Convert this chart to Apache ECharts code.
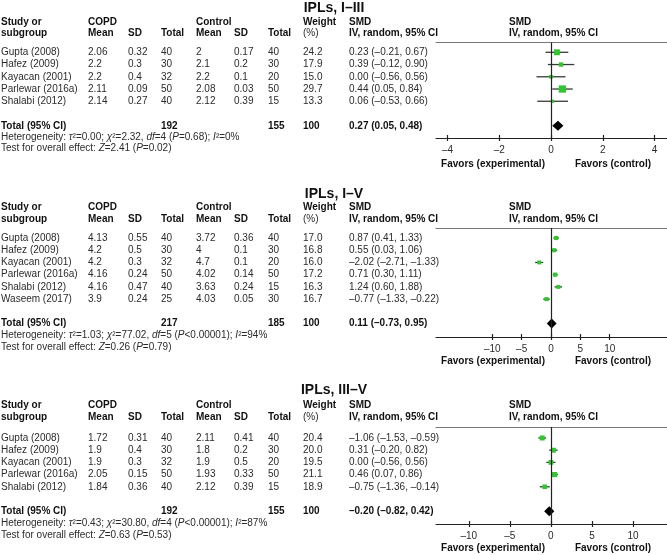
<!DOCTYPE html>
<html><head><meta charset="utf-8">
<script src="https://cdn.jsdelivr.net/npm/echarts@6/dist/echarts.min.js"></script>
<style>html,body{margin:0;padding:0;background:#fff}#c{width:667px;height:555px}</style>
</head><body><div id="c"></div>
<script>
// ---------------- DATA ----------------
const title1 = 'IPLs, I–III';
const studies1 = ['Gupta (2008)','Hafez (2009)','Kayacan (2001)','Parlewar (2016a)','Shalabi (2012)'];
const copdMean1 = ['2.06','2.2','2.2','2.11','2.14'];
const copdSD1 = ['0.32','0.3','0.4','0.09','0.27'];
const copdN1 = [40,30,32,50,40];
const ctrlMean1 = ['2','2.1','2.2','2.08','2.12'];
const ctrlSD1 = ['0.17','0.2','0.1','0.03','0.39'];
const ctrlN1 = [40,30,20,50,15];
const weight1 = [24.2,17.9,15.0,29.7,13.3];
const smd1 = [0.23,0.39,0.00,0.44,0.06];
const lo1 = [-0.21,-0.12,-0.56,0.05,-0.53];
const hi1 = [0.67,0.90,0.56,0.84,0.66];
const totalN1 = [192,155];
const totalSmd1 = [0.27,0.05,0.48];
const hetero1 = ['0.00','2.32','4','=0.68','0'];
const overall1 = ['2.41','0.02'];
const ticks1 = [-4,-2,0,2,4];

const title2 = 'IPLs, I–V';
const studies2 = ['Gupta (2008)','Hafez (2009)','Kayacan (2001)','Parlewar (2016a)','Shalabi (2012)','Waseem (2017)'];
const copdMean2 = ['4.13','4.2','4.2','4.16','4.16','3.9'];
const copdSD2 = ['0.55','0.5','0.3','0.24','0.47','0.24'];
const copdN2 = [40,30,32,50,40,25];
const ctrlMean2 = ['3.72','4','4.7','4.02','3.63','4.03'];
const ctrlSD2 = ['0.36','0.1','0.1','0.14','0.24','0.05'];
const ctrlN2 = [40,30,20,50,15,30];
const weight2 = [17.0,16.8,16.0,17.2,16.3,16.7];
const smd2 = [0.87,0.55,-2.02,0.71,1.24,-0.77];
const lo2 = [0.41,0.03,-2.71,0.30,0.60,-1.33];
const hi2 = [1.33,1.06,-1.33,1.11,1.88,-0.22];
const totalN2 = [217,185];
const totalSmd2 = [0.11,-0.73,0.95];
const hetero2 = ['1.03','77.02','5','<0.00001','94'];
const overall2 = ['0.26','0.79'];
const ticks2 = [-10,-5,0,5,10];

const title3 = 'IPLs, III–V';
const studies3 = ['Gupta (2008)','Hafez (2009)','Kayacan (2001)','Parlewar (2016a)','Shalabi (2012)'];
const copdMean3 = ['1.72','1.9','1.9','2.05','1.84'];
const copdSD3 = ['0.31','0.4','0.3','0.15','0.36'];
const copdN3 = [40,30,32,50,40];
const ctrlMean3 = ['2.11','1.8','1.9','1.93','2.12'];
const ctrlSD3 = ['0.41','0.2','0.5','0.33','0.39'];
const ctrlN3 = [40,30,20,50,15];
const weight3 = [20.4,20.0,19.5,21.1,18.9];
const smd3 = [-1.06,0.31,0.00,0.46,-0.75];
const lo3 = [-1.53,-0.20,-0.56,0.07,-1.36];
const hi3 = [-0.59,0.82,0.56,0.86,-0.14];
const totalN3 = [192,155];
const totalSmd3 = [-0.20,-0.82,0.42];
const hetero3 = ['0.43','30.80','4','<0.00001','87'];
const overall3 = ['0.63','0.53'];
const ticks3 = [-10,-5,0,5,10];

// ---------------- ASSEMBLY ----------------
const panels = [
  {title:title1, studies:studies1, cm:copdMean1, cs:copdSD1, cn:copdN1, km:ctrlMean1, ks:ctrlSD1, kn:ctrlN1, w:weight1, smd:smd1, lo:lo1, hi:hi1, tn:totalN1, ts:totalSmd1, het:hetero1, ov:overall1, ticks:ticks1},
  {title:title2, studies:studies2, cm:copdMean2, cs:copdSD2, cn:copdN2, km:ctrlMean2, ks:ctrlSD2, kn:ctrlN2, w:weight2, smd:smd2, lo:lo2, hi:hi2, tn:totalN2, ts:totalSmd2, het:hetero2, ov:overall2, ticks:ticks2},
  {title:title3, studies:studies3, cm:copdMean3, cs:copdSD3, cn:copdN3, km:ctrlMean3, ks:ctrlSD3, kn:ctrlN3, w:weight3, smd:smd3, lo:lo3, hi:hi3, tn:totalN3, ts:totalSmd3, het:hetero3, ov:overall3, ticks:ticks3}
];

// layout (positions only)
const layout = [
  {titleY:8, h1:22.5, h2:33.5, top:42.5, height:95.5, yMin:-0.8, yMax:7.0, xMin:-4.44, xMax:4.48, favorsY:164.5, gap:11.2},
  {titleY:194, h1:207.5, h2:219, top:228, height:109, yMin:-0.82, yMax:8.1, xMin:-19.6, xMax:19.76, favorsY:361.5, gap:11.8},
  {titleY:390, h1:405, h2:417, top:427, height:97, yMin:-0.9, yMax:7.05, xMin:-14.0, xMax:14.15, favorsY:548, gap:12.2}
];
const COL = {study:1, cm:88, cs:128, cn:161, km:196, ks:234, kn:268, w:303, smd:349, plot:509};
const FONT = '"Liberation Sans", Arial, Helvetica, sans-serif';
const TXT = '#2b2b2b';

function fmt(v){ return (v < 0 ? '–' : '') + Math.abs(v).toFixed(2); }
function ciText(e,l,h){ return fmt(e) + ' (' + fmt(l) + ', ' + fmt(h) + ')'; }

const chart = echarts.init(document.getElementById('c'), null, {renderer:'canvas'});

function forestItem(params, api){
  const row = api.value(0);
  const pE = api.coord([api.value(1), row]);
  const pL = api.coord([api.value(2), row]);
  const pH = api.coord([api.value(3), row]);
  const s = Math.max(3, 0.245 * api.value(4));
  return {type:'group', children:[
    {type:'line', shape:{x1:pL[0], y1:pL[1], x2:pH[0], y2:pH[1]}, style:{stroke:'#3a3a3a', lineWidth:1.3}},
    {type:'rect', shape:{x:pE[0]-s/2, y:pE[1]-s/2, width:s, height:s}, style:{fill:'#2fc62f'}}
  ]};
}
function diamondItem(params, api){
  const row = api.value(0);
  const pE = api.coord([api.value(1), row]);
  const pL = api.coord([api.value(2), row]);
  const pH = api.coord([api.value(3), row]);
  const hh = 5;
  return {type:'polygon', shape:{points:[[pL[0],pL[1]],[pE[0],pE[1]-hh],[pH[0],pH[1]],[pE[0],pE[1]+hh]]}, style:{fill:'#000'}};
}

const grid = [], xAxis = [], yAxis = [], series = [];
panels.forEach((P, p) => {
  const L = layout[p];
  grid.push({left:436, right:0, top:L.top, height:L.height, containLabel:false});
  const tickFmt = v => (v < 0 ? '–' + Math.abs(v) : String(v));
  xAxis.push({gridIndex:p, type:'value', min:L.xMin, max:L.xMax, position:'bottom',
    axisLine:{show:true, onZero:false, lineStyle:{color:'#222', width:1.2}},
    axisTick:{show:true, length:3, customValues:P.ticks, lineStyle:{color:'#222', width:1.2}},
    axisLabel:{show:true, customValues:P.ticks, formatter:tickFmt, fontSize:10, color:TXT, fontFamily:FONT, margin:7},
    splitLine:{show:false}});
  xAxis.push({gridIndex:p, type:'value', min:L.xMin, max:L.xMax, position:'bottom',
    axisLine:{show:false, onZero:false},
    axisTick:{show:true, inside:true, length:3, customValues:P.ticks, lineStyle:{color:'#222', width:1.2}},
    axisLabel:{show:false}, splitLine:{show:false}});
  xAxis.push({gridIndex:p, type:'value', min:L.xMin, max:L.xMax, position:'top',
    axisLine:{show:true, onZero:false, lineStyle:{color:'#777', width:1}},
    axisTick:{show:false}, axisLabel:{show:false}, splitLine:{show:false}});
  yAxis.push({gridIndex:p, type:'value', min:L.yMin, max:L.yMax, inverse:true, show:false});

  const n = P.studies.length;
  series.push({type:'custom', xAxisIndex:3*p, yAxisIndex:p, renderItem:forestItem, clip:false, silent:true,
    data:P.studies.map((s,i)=>[i, P.smd[i], P.lo[i], P.hi[i], P.w[i]]),
    markLine:{silent:true, symbol:['none','none'], label:{show:false}, animation:false,
      lineStyle:{color:'#222', width:1.2, type:'solid'}, data:[{xAxis:0}]}});
  series.push({type:'custom', xAxisIndex:3*p, yAxisIndex:p, renderItem:diamondItem, clip:false, silent:true,
    data:[[n+1, P.ts[0], P.ts[1], P.ts[2]]]});
});

chart.setOption({animation:false, backgroundColor:'#fff', grid, xAxis, yAxis, series});

// ---------------- TABLE TEXT ----------------
const g = [];
function T(x, y, text, opt){
  opt = opt || {};
  g.push({type:'text', x:x, y:y, silent:true, style:{
    text:text, fill:opt.fill || TXT, fontSize:opt.size || 10, fontFamily:FONT,
    fontWeight:opt.bold ? 'bold' : 'normal', textAlign:opt.align || 'left', textVerticalAlign:'middle',
    align:opt.align || 'left', verticalAlign:'middle', rich:opt.rich}});
}
const BOLD = {bold:true, fill:'#111'};
const rich = {i:{fontStyle:'italic', fontSize:10, fontFamily:FONT, fill:TXT}};
panels.forEach((P, p) => {
  const L = layout[p];
  T(334, L.titleY, P.title, {bold:true, size:14, fill:'#111', align:'center'});
  T(COL.study, L.h1, 'Study or', BOLD); T(COL.study, L.h2, 'subgroup', BOLD);
  T(COL.cm, L.h1, 'COPD', BOLD); T(COL.cm, L.h2, 'Mean', BOLD);
  T(COL.cs, L.h2, 'SD', BOLD); T(COL.cn, L.h2, 'Total', BOLD);
  T(COL.km, L.h1, 'Control', BOLD); T(COL.km, L.h2, 'Mean', BOLD);
  T(COL.ks, L.h2, 'SD', BOLD); T(COL.kn, L.h2, 'Total', BOLD);
  T(COL.w, L.h1, 'Weight', BOLD); T(COL.w, L.h2, '(%)', {});
  T(COL.smd, L.h1, 'SMD', BOLD); T(COL.smd, L.h2, 'IV, random, 95% CI', BOLD);
  T(COL.plot, L.h1, 'SMD', BOLD); T(COL.plot, L.h2, 'IV, random, 95% CI', BOLD);
  const yRow = r => chart.convertToPixel({yAxisIndex:p}, r);
  P.studies.forEach((s, i) => {
    const y = yRow(i);
    T(COL.study, y, s); T(COL.cm, y, P.cm[i]); T(COL.cs, y, P.cs[i]); T(COL.cn, y, String(P.cn[i]));
    T(COL.km, y, P.km[i]); T(COL.ks, y, P.ks[i]); T(COL.kn, y, String(P.kn[i]));
    T(COL.w, y, P.w[i].toFixed(1)); T(COL.smd, y, ciText(P.smd[i], P.lo[i], P.hi[i]));
  });
  const yt = yRow(P.studies.length + 1);
  T(COL.study, yt, 'Total (95% CI)', BOLD); T(COL.cn, yt, String(P.tn[0]), BOLD);
  T(COL.kn, yt, String(P.tn[1]), BOLD); T(COL.w, yt, '100', BOLD);
  T(COL.smd, yt, ciText(P.ts[0], P.ts[1], P.ts[2]), BOLD);
  const h = P.het;
  T(COL.study, yt + L.gap, 'Heterogeneity: {i|τ}²=' + h[0] + '; {i|χ}²=' + h[1] + ', {i|df}=' + h[2] + ' ({i|P}' + h[3] + '); {i|I}²=' + h[4] + '%', {rich});
  T(COL.study, yt + 2 * L.gap, 'Test for overall effect: {i|Z}=' + P.ov[0] + ' ({i|P}=' + P.ov[1] + ')', {rich});
  T(493, L.favorsY, 'Favors (experimental)', {bold:true, fill:'#111', align:'center'});
  T(613, L.favorsY, 'Favors (control)', {bold:true, fill:'#111', align:'center'});
});
chart.setOption({graphic:{elements:g}});
</script>
</body></html>
